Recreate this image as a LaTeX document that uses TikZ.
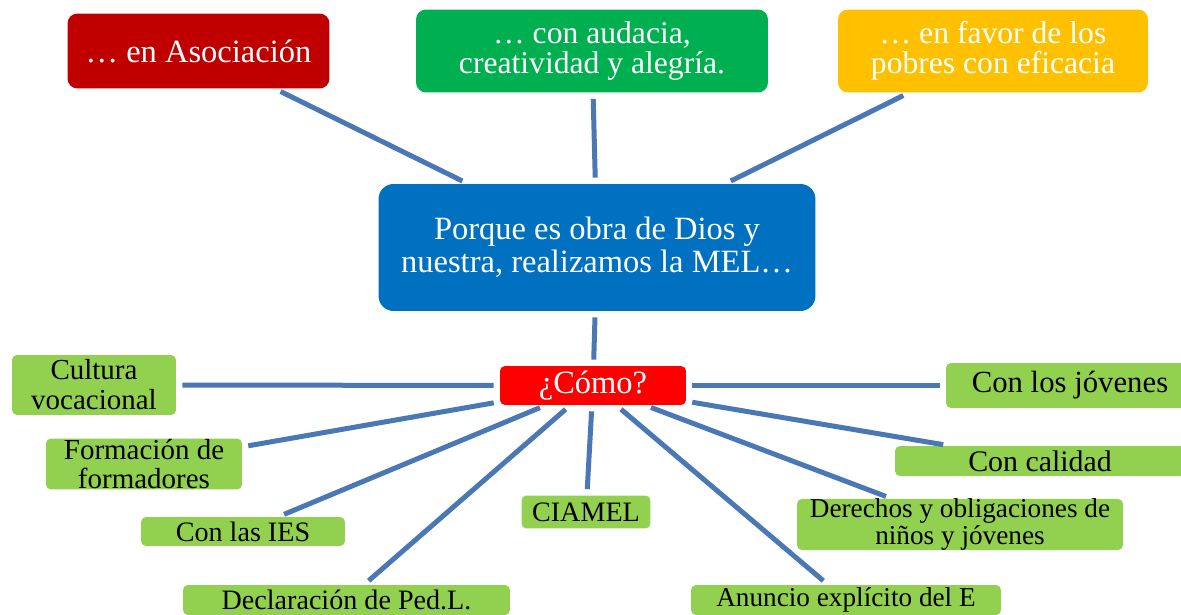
\documentclass[tikz,border=0pt]{standalone}
\usepackage{fontspec}
\setmainfont{Liberation Serif}
\usetikzlibrary{positioning,calc}

\definecolor{asocred}{HTML}{C00000}
\definecolor{audgreen}{HTML}{00B050}
\definecolor{favyellow}{HTML}{FFC000}
\definecolor{melblue}{HTML}{0070C0}
\definecolor{comored}{HTML}{FF0000}
\definecolor{leafgreen}{HTML}{92D050}
\definecolor{linkblue}{HTML}{4A78B4}

\tikzset{
  topbox/.style={draw=none, rounded corners=0.2cm, inner sep=0pt, align=center,
    text=white, font=\fontsize{18}{17}\selectfont},
  leafbox/.style={draw=none, fill=leafgreen, rounded corners=0.1cm, inner sep=0pt,
    align=center, text=black, font=\fontsize{16}{17}\selectfont},
  link/.style={draw=linkblue, line width=0.1cm, shorten <=0.12cm, shorten >=0.12cm}
}

\begin{document}
\begin{tikzpicture}[x=0.02cm, y=-0.02cm]

\useasboundingbox (0,0) rectangle (1181,615);
\clip (0,0) rectangle (1181,615);

% Top row
\node[topbox, fill=asocred, minimum width=5.24cm, minimum height=1.5cm] (asoc) at (198.5, 51) {\fontsize{18.5}{17}\selectfont\dots{} en Asociación};
\node[topbox, fill=audgreen, minimum width=7.04cm, minimum height=1.66cm] (audacia) at (592, 51) {\dots{} con audacia,\\creatividad y alegría.};
\node[topbox, fill=favyellow, minimum width=6.2cm, minimum height=1.66cm] (favor) at (993, 51) {\dots{} en favor de los\\pobres con eficacia};

% Central box
\node[topbox, fill=melblue, rounded corners=0.3cm, minimum width=8.74cm, minimum height=2.54cm,
  font=\fontsize{18.5}{19}\selectfont] (mel) at (597, 247.5) {Porque es obra de Dios y\\nuestra, realizamos la MEL\dots};

% How?
\node[topbox, fill=comored, rounded corners=0.1cm, minimum width=3.72cm, minimum height=0.78cm,
  font=\fontsize{18.5}{19}\selectfont] (como) at (593, 385.5) {¿Cómo?};

% Left leaves
\node[leafbox, minimum width=3.28cm, minimum height=1.2cm, font=\fontsize{16.5}{17}\selectfont] (cultura) at (94, 385) {Cultura\\vocacional};
\node[leafbox, minimum width=3.92cm, minimum height=1.02cm, font=\fontsize{16.5}{17}\selectfont] (formacion) at (144, 464) {Formación de\\formadores};
\node[leafbox, minimum width=4.08cm, minimum height=0.58cm] (ies) at (243, 531.5) {Con las IES};
\node[leafbox, minimum width=6.54cm, minimum height=0.6cm] (declaracion) at (346.5, 600) {Declaración de Ped.L.};

% Middle and right leaves
\node[leafbox, minimum width=2.58cm, minimum height=0.66cm] (ciamel) at (586, 512) {CIAMEL};
\node[leafbox, minimum width=6.2cm, minimum height=0.6cm, font=\fontsize{15.5}{17}\selectfont] (anuncio) at (846, 600) {Anuncio explícito del E};
\node[leafbox, minimum width=6.52cm, minimum height=0.9cm, font=\fontsize{15.5}{15}\selectfont] (derechos) at (960, 524.5) {Derechos y obligaciones de\\niños y jóvenes};
\node[leafbox, minimum width=5.8cm, minimum height=0.6cm, font=\fontsize{17}{17}\selectfont] (calidad) at (1040, 461) {Con calidad};
\node[leafbox, minimum width=4.96cm, minimum height=0.9cm, font=\fontsize{17.5}{17}\selectfont] (jovenes) at (1070, 385.5) {Con los jóvenes};

% Connectors
\foreach \n in {asoc, audacia, favor, como}
  \draw[link] (\n) -- (mel);
\foreach \n in {cultura, formacion, ies, declaracion, ciamel, anuncio, derechos, calidad, jovenes}
  \draw[link] (como) -- (\n);

\end{tikzpicture}
\end{document}
